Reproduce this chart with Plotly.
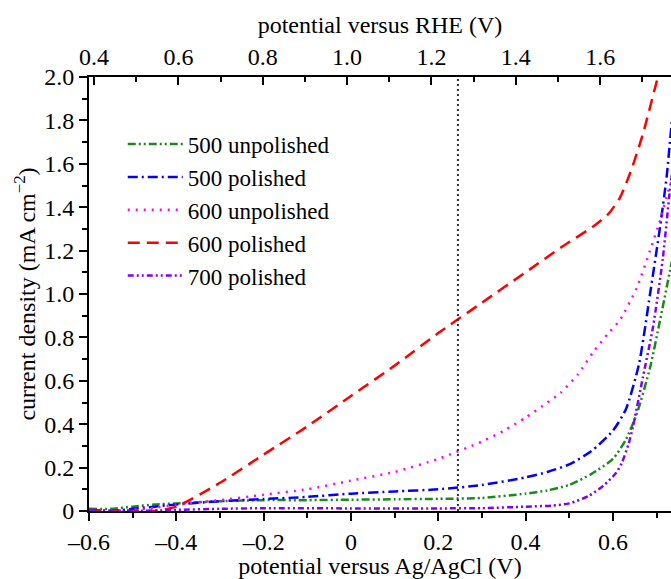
import plotly.graph_objects as go

# ---- data (potential vs Ag/AgCl in V, current density in mA cm^-2) ----
x_500u = [-0.6, -0.55, -0.5, -0.45, -0.4, -0.3, -0.2, -0.1, 0.0, 0.1, 0.2, 0.3, 0.4, 0.45, 0.5, 0.55, 0.6, 0.63, 0.655, 0.685, 0.708, 0.735]
y_500u = [0.01, 0.01, 0.02, 0.03, 0.035, 0.045, 0.05, 0.05, 0.052, 0.054, 0.056, 0.06, 0.08, 0.095, 0.12, 0.17, 0.24, 0.33, 0.45, 0.66, 0.88, 1.15]

x_500p = [-0.6, -0.55, -0.5, -0.45, -0.4, -0.3, -0.2, -0.1, 0.0, 0.1, 0.2, 0.3, 0.4, 0.45, 0.5, 0.55, 0.6, 0.63, 0.66, 0.685, 0.708, 0.723, 0.735]
y_500p = [0.005, 0.0, 0.01, 0.02, 0.03, 0.045, 0.055, 0.065, 0.08, 0.09, 0.1, 0.12, 0.155, 0.18, 0.215, 0.275, 0.37, 0.47, 0.68, 1.0, 1.31, 1.54, 1.8]

x_600u = [-0.55, -0.5, -0.45, -0.4, -0.3, -0.2, -0.1, 0.0, 0.1, 0.2, 0.3, 0.35, 0.4, 0.45, 0.48, 0.52, 0.554, 0.59, 0.616, 0.655, 0.685, 0.708, 0.726, 0.735]
y_600u = [0.0, 0.005, 0.015, 0.03, 0.05, 0.075, 0.1, 0.14, 0.18, 0.24, 0.32, 0.37, 0.43, 0.5, 0.544, 0.63, 0.73, 0.82, 0.88, 1.03, 1.2, 1.34, 1.47, 1.52]

x_600p = [-0.6, -0.5, -0.45, -0.4, -0.3, -0.2, -0.1, 0.0, 0.1, 0.2, 0.3, 0.4, 0.485, 0.554, 0.59, 0.615, 0.64, 0.669, 0.703, 0.72]
y_600p = [0.0, 0.0, 0.0, 0.02, 0.13, 0.26, 0.39, 0.53, 0.67, 0.82, 0.96, 1.1, 1.22, 1.31, 1.37, 1.44, 1.56, 1.74, 2.0, 2.12]

x_700p = [-0.6, -0.5, -0.4, -0.3, -0.2, 0.0, 0.2, 0.3, 0.4, 0.46, 0.5, 0.545, 0.58, 0.607, 0.62, 0.636, 0.646, 0.669, 0.692, 0.714, 0.73, 0.735]
y_700p = [0.005, 0.0, 0.005, 0.01, 0.013, 0.012, 0.012, 0.013, 0.02, 0.025, 0.035, 0.07, 0.12, 0.175, 0.22, 0.31, 0.39, 0.62, 0.85, 1.16, 1.47, 1.55]

names = ["500 unpolished", "500 polished", "600 unpolished", "600 polished", "700 polished"]
colors = ["#1a8a1a", "#0000ff", "#ff00ff", "#ff0000", "#8000ff"]
dashes = ["8px,3px,2px,3px,2px,3px", "10px,4px,2px,4px", "2px,6px", "12px,7px", "6px,3px,2px,3px,2px,3px"]
series_x = [x_500u, x_500p, x_600u, x_600p, x_700p]
series_y = [y_500u, y_500p, y_600u, y_600p, y_700p]

dotted_x = 0.245

x_ticks = [-0.6, -0.4, -0.2, 0.0, 0.2, 0.4, 0.6]
x_ticktext = ["\u20130.6", "\u20130.4", "\u20130.2", "0", "0.2", "0.4", "0.6"]
y_ticks = [0.0, 0.2, 0.4, 0.6, 0.8, 1.0, 1.2, 1.4, 1.6, 1.8, 2.0]
y_ticktext = ["0", "0.2", "0.4", "0.6", "0.8", "1.0", "1.2", "1.4", "1.6", "1.8", "2.0"]
rhe_ticks = [0.4, 0.6, 0.8, 1.0, 1.2, 1.4, 1.6]
rhe_ticktext = ["0.4", "0.6", "0.8", "1.0", "1.2", "1.4", "1.6"]

x_range = [-0.6, 0.733]
rhe_range = [0.388, 1.768]
y_range = [0.0, 2.0]

FONT = "Liberation Serif"
FS = 24

fig = go.Figure()
for xs, ys, nm, c, d in zip(series_x, series_y, names, colors, dashes):
    fig.add_trace(go.Scatter(x=xs, y=ys, name=nm, mode="lines",
                             line=dict(color=c, width=2.5, dash=d, shape="spline", smoothing=0.6)))

fig.add_trace(go.Scatter(x=[dotted_x, dotted_x], y=y_range, mode="lines",
                         line=dict(color="#333333", width=2, dash="2px,3px"),
                         showlegend=False, hoverinfo="skip"))
fig.add_trace(go.Scatter(x=rhe_range, y=[-1, -1], xaxis="x2", mode="markers",
                         marker=dict(opacity=0), showlegend=False, hoverinfo="skip"))

axis_common = dict(showline=True, linecolor="black", linewidth=2, showgrid=False, zeroline=False,
                   tickcolor="black", tickwidth=2, ticklen=8,
                   tickfont=dict(family=FONT, size=FS, color="black"))

fig.update_layout(
    width=671, height=579,
    margin=dict(l=89, r=0, t=77, b=68),
    plot_bgcolor="white", paper_bgcolor="white",
    font=dict(family=FONT, size=FS, color="black"),
    xaxis=dict(range=x_range, tickmode="array", tickvals=x_ticks, ticktext=x_ticktext,
               ticks="outside",
               minor=dict(tickmode="linear", tick0=0, dtick=0.1, ticks="outside", ticklen=5, tickwidth=2, tickcolor="black"),
               title=dict(text="potential versus Ag/AgCl (V)", font=dict(family=FONT, size=FS), standoff=2),
               **axis_common),
    xaxis2=dict(range=rhe_range, overlaying="x", side="top", anchor="y", tickmode="array",
                tickvals=rhe_ticks, ticktext=rhe_ticktext, ticks="inside",
                minor=dict(tickmode="linear", tick0=0.3, dtick=0.2, ticks="inside", ticklen=5, tickwidth=2, tickcolor="black"),
                title=dict(text="potential versus RHE (V)", font=dict(family=FONT, size=FS), standoff=4),
                **axis_common),
    yaxis=dict(range=y_range, tickmode="array", tickvals=y_ticks, ticktext=y_ticktext,
               ticks="outside",
               minor=dict(tickmode="linear", tick0=0, dtick=0.1, ticks="outside", ticklen=5, tickwidth=2, tickcolor="black"),
               title=dict(text="current density (mA cm<sup>\u22122</sup>)", font=dict(family=FONT, size=FS), standoff=2),
               **axis_common),
    legend=dict(x=0.058, y=0.895, xanchor="left", yanchor="top", bgcolor="rgba(0,0,0,0)",
                font=dict(family=FONT, size=23, color="black"), itemwidth=55, tracegroupgap=0),
    showlegend=True,
)

fig.write_html("out.html")
